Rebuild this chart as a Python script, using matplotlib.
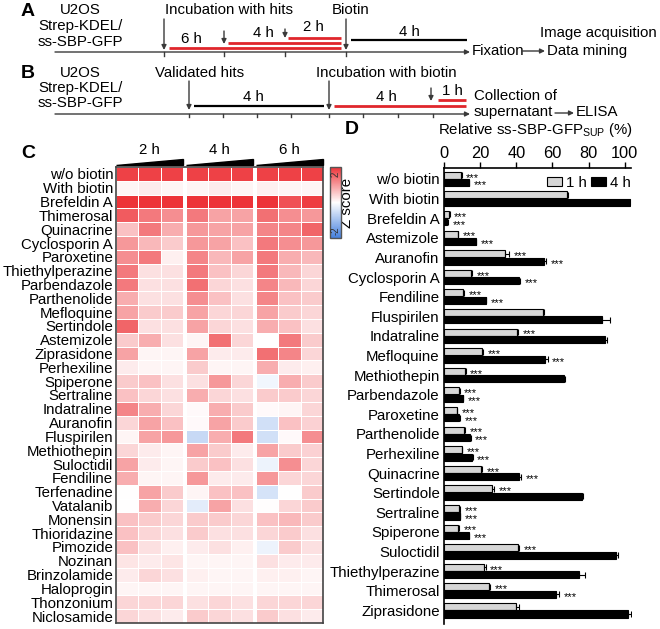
import numpy as np
import matplotlib
matplotlib.use("Agg")
import matplotlib.pyplot as plt
from matplotlib.colors import LinearSegmentedColormap
from matplotlib.patches import Polygon

plt.rcParams['font.family'] = ['Liberation Sans', 'DejaVu Sans']

# ---------------- data ----------------
heat_rows = ["w/o biotin", "With biotin", "Brefeldin A", "Thimerosal", "Quinacrine",
             "Cyclosporin A", "Paroxetine", "Thiethylperazine", "Parbendazole",
             "Parthenolide", "Mefloquine", "Sertindole", "Astemizole", "Ziprasidone",
             "Perhexiline", "Spiperone", "Sertraline", "Indatraline", "Auranofin",
             "Fluspirilen", "Methiothepin", "Suloctidil", "Fendiline", "Terfenadine",
             "Vatalanib", "Monensin", "Thioridazine", "Pimozide", "Nozinan",
             "Brinzolamide", "Haloprogin", "Thonzonium", "Niclosamide"]
heat_groups = ["2 h", "4 h", "6 h"]
z_scores = [
    [1.85, 1.85, 1.85, 1.85, 1.85, 1.85, 1.85, 1.85, 1.85],
    [0.10, 0.20, 0.10, 0.10, 0.20, 0.10, 0.15, 0.10, 0.10],
    [2.00, 2.00, 2.00, 2.00, 2.00, 2.00, 2.00, 1.70, 1.90],
    [1.60, 1.30, 1.10, 1.30, 0.90, 0.90, 1.40, 1.10, 1.00],
    [0.60, 1.30, 0.80, 1.00, 0.90, 0.90, 1.20, 1.20, 1.50],
    [1.00, 0.70, 0.50, 1.00, 0.90, 0.60, 1.30, 1.10, 1.00],
    [1.10, 1.30, 0.15, 1.20, 0.70, 0.90, 1.30, 0.80, 0.70],
    [1.30, 0.30, 0.30, 1.30, 0.60, 0.40, 1.30, 0.70, 0.40],
    [1.30, 0.30, 0.30, 1.40, 0.40, 0.30, 1.20, 0.70, 0.40],
    [0.80, 0.30, 0.30, 1.10, 0.60, 0.30, 1.20, 0.60, 0.50],
    [0.90, 0.50, 0.50, 0.90, 0.40, 0.40, 0.90, 0.50, 0.40],
    [1.50, 0.30, 0.30, 0.90, 0.40, 0.30, 0.80, 0.60, 0.30],
    [0.50, 0.80, 0.30, 0.10, 1.40, 0.40, 0.00, 1.30, 0.50],
    [0.90, 0.10, 0.10, 0.90, 0.20, 0.20, 1.40, 1.20, 0.40],
    [0.20, 0.10, 0.10, 0.50, 0.10, 0.10, 0.80, 0.20, 0.15],
    [0.50, 0.60, 0.30, 0.30, 1.00, 0.40, -0.15, 0.80, 0.50],
    [0.60, 0.40, 0.30, 0.80, 0.40, 0.30, 0.50, 0.50, 0.40],
    [1.20, 0.80, 0.40, 0.05, 0.80, 0.50, 0.05, 0.10, 0.40],
    [0.40, 0.90, 0.60, 0.05, 0.90, 0.50, -0.50, 0.60, 0.45],
    [0.10, 0.90, 1.00, -0.60, 0.80, 1.30, -0.50, 0.05, 1.10],
    [0.40, 0.20, 0.10, 0.90, 0.50, 0.20, 0.90, 0.50, 0.45],
    [0.90, 0.20, 0.10, 0.50, 0.60, 0.30, -0.20, 1.10, 0.40],
    [0.80, 0.10, 0.10, 1.00, 0.20, 0.20, 1.00, 0.40, 0.40],
    [0.00, 0.90, 0.50, 0.10, 0.60, 0.60, -0.45, 0.00, 0.50],
    [0.00, 0.80, 0.40, -0.30, 0.90, 0.30, 0.02, 0.40, 0.50],
    [0.60, 0.50, 0.40, 0.50, 0.50, 0.40, 0.60, 0.70, 0.50],
    [0.60, 0.40, 0.30, 0.50, 0.30, 0.30, 0.40, 0.50, 0.30],
    [0.60, 0.30, 0.15, 0.20, 0.30, 0.15, -0.20, 0.50, 0.30],
    [0.25, 0.20, 0.25, 0.10, 0.10, 0.10, 0.30, 0.20, 0.20],
    [0.20, 0.40, 0.30, 0.15, 0.10, 0.10, 0.15, 0.15, 0.10],
    [0.10, 0.10, 0.10, 0.10, 0.10, 0.10, 0.10, 0.10, 0.10],
    [0.40, 0.40, 0.40, 0.30, 0.40, 0.30, 0.40, 0.40, 0.40],
    [0.40, 0.30, 0.20, 0.50, 0.40, 0.30, 0.50, 0.30, 0.20],
]

bar_labels = ["w/o biotin", "With biotin", "Brefeldin A", "Astemizole", "Auranofin",
              "Cyclosporin A", "Fendiline", "Fluspirilen", "Indatraline", "Mefloquine",
              "Methiothepin", "Parbendazole", "Paroxetine", "Parthenolide", "Perhexiline",
              "Quinacrine", "Sertindole", "Sertraline", "Spiperone", "Suloctidil",
              "Thiethylperazine", "Thimerosal", "Ziprasidone"]
val_1h = [9.5, 68.3, 2.8, 7.5, 34.0, 15.0, 10.7, 54.9, 40.5, 20.8, 11.6, 8.3, 7.0,
          11.2, 9.8, 20.3, 26.7, 8.5, 7.9, 40.7, 22.3, 24.9, 39.6]
err_1h = [0.3, 0.5, 0.3, 0.3, 2.0, 0.5, 0.3, 0.6, 0.6, 1.0, 0.3, 0.3, 0.3,
          0.3, 0.3, 1.0, 1.0, 0.3, 0.3, 0.8, 0.8, 0.8, 2.0]
val_4h = [13.8, 103.0, 1.8, 17.5, 55.2, 41.3, 23.2, 87.7, 89.0, 55.8, 66.5, 10.3, 8.5,
          14.5, 15.5, 41.6, 76.4, 8.8, 13.6, 95.4, 74.8, 61.9, 101.8]
err_4h = [0.3, 2.0, 0.3, 0.3, 1.5, 1.0, 0.3, 4.0, 1.0, 1.5, 0.5, 0.3, 0.3,
          0.3, 0.3, 1.0, 0.5, 0.3, 0.3, 0.7, 3.0, 2.0, 1.5]
sig_1h = [1, 0, 1, 1, 1, 1, 1, 0, 1, 1, 1, 1, 1, 1, 1, 1, 1, 1, 1, 1, 1, 1, 0]
sig_4h = [1, 0, 1, 1, 1, 1, 1, 0, 0, 1, 0, 1, 1, 1, 1, 1, 0, 1, 1, 0, 0, 1, 0]
x_ticks = [0, 20, 40, 60, 80, 100]

W, H = 660, 629
FS = 10.8
fig = plt.figure(figsize=(W / 100, H / 100), dpi=100)

# overlay axes in pixel coordinates
ov = fig.add_axes([0, 0, 1, 1])
ov.set_xlim(0, W)
ov.set_ylim(H, 0)
ov.axis('off')

def ax_rect(x0, y0, x1, y1):
    return [x0 / W, 1 - y1 / H, (x1 - x0) / W, (y1 - y0) / H]

lc = '#3a3a3a'
red = '#e0262c'

def down_arrow(x, y0, y1):
    ov.annotate('', xy=(x, y1), xytext=(x, y0),
                arrowprops=dict(arrowstyle='-|>', color=lc, lw=1.0,
                                mutation_scale=7, shrinkA=0, shrinkB=0))

def right_arrow(x0, x1, y, lw=1.0):
    ov.annotate('', xy=(x1, y), xytext=(x0, y),
                arrowprops=dict(arrowstyle='-|>', color=lc, lw=lw,
                                mutation_scale=7, shrinkA=0, shrinkB=0))

# ---------------- Panel A ----------------
ov.text(28, 12, 'A', fontsize=14, fontweight='bold', ha='center', va='center')
for t, y in [('U2OS', 10), ('Strep-KDEL/', 26), ('ss-SBP-GFP', 42)]:
    ov.text(80, y, t, fontsize=FS, ha='center', va='center')
right_arrow(55, 470, 52)
for x in [164, 224, 285, 346]:
    ov.plot([x, x], [52, 56], color=lc, lw=1)
ov.text(229, 10, 'Incubation with hits', fontsize=FS, ha='center', va='center')
ov.text(351, 10, 'Biotin', fontsize=FS, ha='center', va='center')
down_arrow(164, 19, 50)
down_arrow(224, 31, 44)
down_arrow(285, 29, 38)
down_arrow(346, 19, 50)
ov.plot([169, 341], [48, 48], color=red, lw=2.0, solid_capstyle='butt')
ov.plot([228, 341], [43, 43], color=red, lw=2.0, solid_capstyle='butt')
ov.plot([288, 341], [37.5, 37.5], color=red, lw=2.0, solid_capstyle='butt')
ov.text(191, 39, '6 h', fontsize=FS, ha='center', va='center')
ov.text(263, 33, '4 h', fontsize=FS, ha='center', va='center')
ov.text(313, 27, '2 h', fontsize=FS, ha='center', va='center')
ov.plot([351, 467], [40, 40], color='black', lw=1.6, solid_capstyle='butt')
ov.text(409, 32, '4 h', fontsize=FS, ha='center', va='center')
ov.text(598, 33, 'Image acquisition', fontsize=FS, ha='center', va='center')
ov.text(472, 51, 'Fixation', fontsize=FS, ha='left', va='center')
right_arrow(522, 545, 51)
ov.text(547, 51, 'Data mining', fontsize=FS, ha='left', va='center')

# ---------------- Panel B ----------------
ov.text(28, 74, 'B', fontsize=14, fontweight='bold', ha='center', va='center')
for t, y in [('U2OS', 73), ('Strep-KDEL/', 88), ('ss-SBP-GFP', 103)]:
    ov.text(80, y, t, fontsize=FS, ha='center', va='center')
right_arrow(55, 470, 114)
for x in [189, 223, 257, 291, 329, 363, 398, 433]:
    ov.plot([x, x], [114, 117], color=lc, lw=1)
ov.text(200, 73, 'Validated hits', fontsize=FS, ha='center', va='center')
ov.text(386, 73, 'Incubation with biotin', fontsize=FS, ha='center', va='center')
down_arrow(189, 81, 110)
down_arrow(329, 81, 110)
down_arrow(431, 88, 101)
ov.plot([194, 324], [106, 106], color='black', lw=1.6, solid_capstyle='butt')
ov.text(253, 97, '4 h', fontsize=FS, ha='center', va='center')
ov.plot([334, 466], [106, 106], color=red, lw=2.0, solid_capstyle='butt')
ov.text(386, 97, '4 h', fontsize=FS, ha='center', va='center')
ov.plot([438, 466], [100, 100], color=red, lw=2.0, solid_capstyle='butt')
ov.text(452, 91, '1 h', fontsize=FS, ha='center', va='center')
ov.text(474, 96, 'Collection of', fontsize=FS, ha='left', va='center')
ov.text(474, 112, 'supernatant', fontsize=FS, ha='left', va='center')
right_arrow(555, 574, 113)
ov.text(576, 112, 'ELISA', fontsize=FS, ha='left', va='center')

# ---------------- Panel C (heatmap) ----------------
ov.text(28, 153, 'C', fontsize=14, fontweight='bold', ha='center', va='center')
cmap = LinearSegmentedColormap.from_list('bwr_soft', [(0.27, 0.50, 0.87), (1, 1, 1), (0.93, 0.20, 0.22)])
Z = np.array(z_scores)
nrow = Z.shape[0]
gap = 0.12
axh = fig.add_axes(ax_rect(116, 167, 323, 623))
mesh = None
for g in range(3):
    x0 = g * (3 + gap)
    mesh = axh.pcolormesh(np.arange(4) + x0, np.arange(nrow + 1), Z[:, g * 3:(g + 1) * 3],
                          cmap=cmap, vmin=-2, vmax=2, edgecolors='white', linewidth=0.7)
    # wedge
    axh.add_patch(Polygon([(x0 + 0.02, -0.15), (x0 + 2.98, -0.15), (x0 + 2.98, -0.55)],
                          closed=True, color='black', clip_on=False))
    axh.text(x0 + 1.5, -1.25, heat_groups[g], fontsize=FS, ha='center', va='center')
axh.set_xlim(0, 9 + 2 * gap)
axh.set_ylim(nrow, 0)
axh.set_xticks([])
axh.set_yticks(np.arange(nrow) + 0.5)
axh.set_yticklabels(heat_rows, fontsize=FS)
axh.tick_params(axis='y', length=0, pad=2)
for s in axh.spines.values():
    s.set_color('#444444')
    s.set_linewidth(1.2)

cax = fig.add_axes(ax_rect(330, 167, 341, 238))
cb = fig.colorbar(mesh, cax=cax)
cb.set_ticks([])
cb.outline.set_edgecolor('#555555')
cb.outline.set_linewidth(1)
cax.text(0.5, 0.9, '2', transform=cax.transAxes, rotation=90, fontsize=7,
         ha='center', va='center', color='#333333')
cax.text(0.5, 0.1, '-2', transform=cax.transAxes, rotation=90, fontsize=7,
         ha='center', va='center', color='#333333')
ov.text(347, 203, 'Z score', fontsize=FS, rotation=90, ha='center', va='center')

# ---------------- Panel D (bars) ----------------
ov.text(352, 130, 'D', fontsize=14, fontweight='bold', ha='center', va='center')
ov.text(536, 130, r'Relative ss-SBP-GFP$_{\mathregular{SUP}}$ (%)', fontsize=FS,
        ha='center', va='center')
axd = fig.add_axes(ax_rect(444, 168, 631, 624))
n = len(bar_labels)
y = np.arange(n)
bh = 0.36
off = 0.19
axd.barh(y - off, val_1h, height=bh, color='#d6d6d6', edgecolor='black', linewidth=0.8,
         label='1 h')
axd.barh(y + off, val_4h, height=bh, color='black', edgecolor='black', linewidth=0.8,
         label='4 h')
axd.errorbar(val_1h, y - off, xerr=[np.zeros(n), err_1h], fmt='none', ecolor='black',
             elinewidth=0.8, capsize=2, capthick=0.8)
axd.errorbar(val_4h, y + off, xerr=[np.zeros(n), err_4h], fmt='none', ecolor='black',
             elinewidth=0.8, capsize=2, capthick=0.8)
for i in range(n):
    if sig_1h[i]:
        axd.text(val_1h[i] + err_1h[i] + 2.5, i - off + 0.12, '***', fontsize=8,
                 ha='left', va='center')
    if sig_4h[i]:
        axd.text(val_4h[i] + err_4h[i] + 2.5, i + off + 0.14, '***', fontsize=8,
                 ha='left', va='center')
axd.set_xlim(0, 103.5)
axd.set_ylim(n - 1 + 0.7, -0.56)
axd.xaxis.tick_top()
axd.set_xticks(x_ticks)
axd.set_xticklabels([str(t) for t in x_ticks], fontsize=FS + 1)
axd.tick_params(axis='x', length=4, width=1, pad=1)
axd.set_yticks(y)
axd.set_yticklabels(bar_labels, fontsize=FS)
axd.tick_params(axis='y', length=0, pad=3)
axd.spines['right'].set_visible(False)
axd.spines['bottom'].set_visible(False)
axd.spines['top'].set_linewidth(1.2)
axd.spines['left'].set_linewidth(1.2)
axd.legend(loc='upper right', bbox_to_anchor=(1.0, 0.983), ncol=2, frameon=False,
           fontsize=FS, handlelength=1.0, handleheight=0.55, handletextpad=0.25,
           columnspacing=0.3, borderaxespad=0, borderpad=0)

fig.savefig('out.png', dpi=100)
